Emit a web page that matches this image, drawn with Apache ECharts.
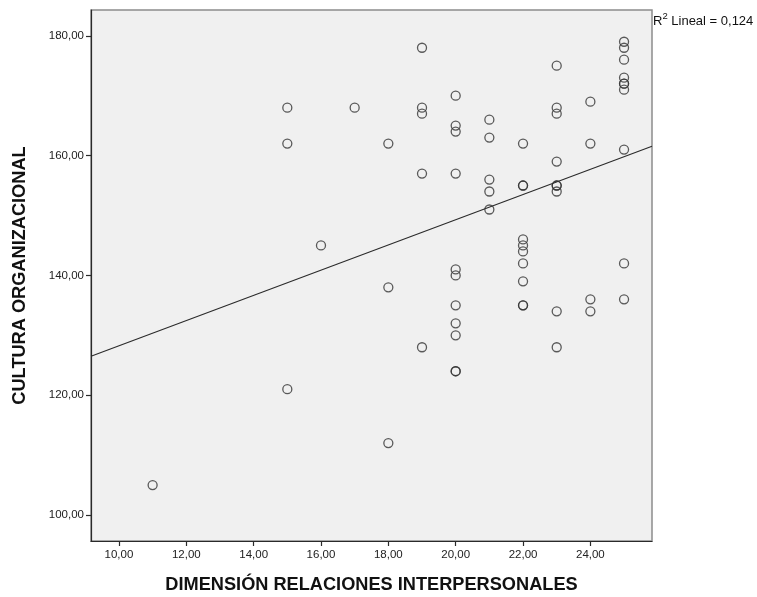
<!DOCTYPE html>
<html>
<head>
<meta charset="utf-8">
<title>Cultura organizacional vs. relaciones interpersonales</title>
<script src="https://cdn.jsdelivr.net/npm/echarts@6/dist/echarts.min.js"></script>
<style>
  html, body { margin: 0; padding: 0; background: #ffffff; }
  #chart { width: 757px; height: 597px; }
</style>
</head>
<body>
<div id="chart"></div>
<script>
// Puntuaciones por participante: dimensión relaciones interpersonales (X) y cultura organizacional (Y)
const relacionesInterpersonales = [
  11,
  15, 15, 15,
  16,
  17,
  18, 18, 18,
  19, 19, 19, 19, 19,
  20, 20, 20, 20, 20, 20, 20, 20, 20, 20, 20,
  21, 21, 21, 21, 21,
  22, 22, 22, 22, 22, 22, 22, 22, 22, 22,
  23, 23, 23, 23, 23, 23, 23, 23, 23,
  24, 24, 24, 24,
  25, 25, 25, 25, 25, 25, 25, 25, 25, 25
];
const culturaOrganizacional = [
  105,
  168, 162, 121,
  145,
  168,
  162, 138, 112,
  178, 168, 167, 157, 128,
  170, 165, 164, 157, 141, 140, 135, 132, 130, 124, 124,
  166, 163, 156, 154, 151,
  162, 155, 155, 146, 145, 144, 142, 139, 135, 135,
  175, 168, 167, 159, 155, 155, 154, 134, 128,
  169, 162, 136, 134,
  179, 178, 176, 173, 172, 172, 171, 161, 142, 136
];

// Marcas de los ejes
const xTicks = [10, 12, 14, 16, 18, 20, 22, 24];
const yTicks = [100, 120, 140, 160, 180];
const xRange = [9.17, 25.83];
const yRange = [95.66, 184.3];

const xTitle = 'DIMENSIÓN RELACIONES INTERPERSONALES';
const yTitle = 'CULTURA ORGANIZACIONAL';
const r2Text = '0,124';

// Ajuste lineal por mínimos cuadrados
function linearFit(xs, ys) {
  const n = xs.length;
  let sx = 0, sy = 0;
  for (let i = 0; i < n; i++) { sx += xs[i]; sy += ys[i]; }
  const mx = sx / n, my = sy / n;
  let sxy = 0, sxx = 0;
  for (let i = 0; i < n; i++) {
    sxy += (xs[i] - mx) * (ys[i] - my);
    sxx += (xs[i] - mx) * (xs[i] - mx);
  }
  const slope = sxy / sxx;
  return { slope: slope, intercept: my - slope * mx };
}

const fit = linearFit(relacionesInterpersonales, culturaOrganizacional);
const fitLine = xRange.map(x => [x, fit.intercept + fit.slope * x]);
const points = relacionesInterpersonales.map((x, i) => [x, culturaOrganizacional[i]]);

const fmt = v => v.toFixed(2).replace('.', ',');
const FONT = '"Liberation Sans", Arial, sans-serif';

const chart = echarts.init(document.getElementById('chart'), null, { renderer: 'canvas' });

chart.setOption({
  animation: false,
  backgroundColor: '#ffffff',
  grid: {
    left: 91, right: 105, top: 10, bottom: 56,
    containLabel: false,
    outerBoundsMode: 'none',
    show: true,
    backgroundColor: '#f0f0f0',
    borderColor: '#8c8c8c',
    borderWidth: 1.5
  },
  xAxis: {
    type: 'value',
    min: xRange[0], max: xRange[1],
    name: xTitle,
    nameLocation: 'middle',
    nameGap: 35,
    nameTextStyle: { fontFamily: FONT, fontSize: 18.2, fontWeight: 'bold', color: '#111' },
    axisLine: { show: true, onZero: false, lineStyle: { color: '#2a2a2a', width: 1.2 } },
    axisTick: { show: true, length: 5, customValues: xTicks, lineStyle: { color: '#2a2a2a', width: 1.2 } },
    axisLabel: { customValues: xTicks, formatter: fmt, margin: 8, fontFamily: FONT, fontSize: 11.5, color: '#222' },
    splitLine: { show: false }
  },
  yAxis: {
    type: 'value',
    min: yRange[0], max: yRange[1],
    name: yTitle,
    nameLocation: 'middle',
    nameGap: 62,
    nameTextStyle: { fontFamily: FONT, fontSize: 18.2, fontWeight: 'bold', color: '#111' },
    axisLine: { show: true, onZero: false, lineStyle: { color: '#2a2a2a', width: 1.2 } },
    axisTick: { show: true, length: 5, customValues: yTicks, lineStyle: { color: '#2a2a2a', width: 1.2 } },
    axisLabel: { customValues: yTicks, formatter: fmt, margin: 7, fontFamily: FONT, fontSize: 11.5, color: '#222' },
    splitLine: { show: false }
  },
  graphic: [{
    type: 'text',
    left: 653,
    top: 11,
    style: {
      text: '{a|R}{b|2}{a| Lineal = ' + r2Text + '}',
      rich: {
        a: { fontFamily: FONT, fontSize: 13, fill: '#111', lineHeight: 17, verticalAlign: 'bottom' },
        b: { fontFamily: FONT, fontSize: 9.5, fill: '#111', lineHeight: 17, verticalAlign: 'top' }
      }
    }
  }],
  series: [
    {
      type: 'scatter',
      data: points,
      symbol: 'circle',
      symbolSize: 9,
      itemStyle: { color: 'rgba(0,0,0,0)', borderColor: '#333333', borderWidth: 1.3 },
      z: 3
    },
    {
      type: 'line',
      data: fitLine,
      showSymbol: false,
      symbol: 'none',
      clip: true,
      lineStyle: { color: '#2a2a2a', width: 1.1 },
      z: 2
    }
  ]
});
</script>
</body>
</html>
